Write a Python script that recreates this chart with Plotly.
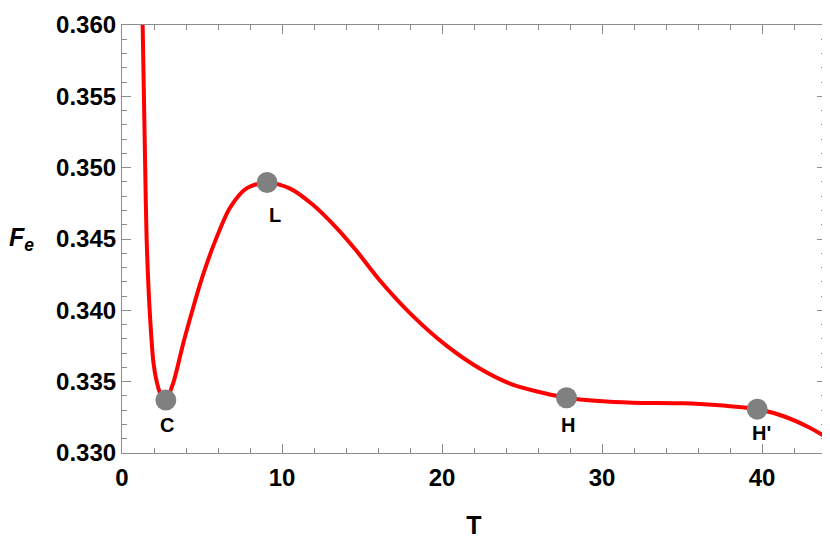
import plotly.graph_objects as go

# curve
T = [1.25, 1.29, 1.37, 1.45, 1.54, 1.73, 1.98, 2.27, 2.50, 2.74, 3.20, 3.83,
     4.45, 4.87, 5.28, 5.70, 6.74, 7.78, 9.07, 10.48, 11.93, 13.39, 14.64,
     16.09, 18.17, 20.26, 22.33, 24.41, 26.28, 27.78, 29.82, 31.90, 35.02,
     37.10, 39.70, 41.26, 42.92, 44.0]
Fe = [0.3620, 0.3600, 0.3550, 0.3500, 0.3450, 0.3400, 0.3362, 0.33456, 0.33390,
      0.33371, 0.33490, 0.33770, 0.34020, 0.34180, 0.34320, 0.34450, 0.34717,
      0.34855, 0.34896, 0.34855, 0.34740, 0.34580, 0.34419, 0.34213, 0.33961,
      0.33754, 0.33594, 0.33479, 0.33422, 0.33387, 0.33364, 0.33353, 0.33349,
      0.33337, 0.33307, 0.33261, 0.33181, 0.33112]

# marked points
pt_T = [2.74, 9.07, 27.78, 39.70]
pt_Fe = [0.33371, 0.34896, 0.33387, 0.33307]
pt_labels = ["C", "L", "H", "H'"]

x_ticks = [0, 10, 20, 30, 40]
y_ticks = [0.330, 0.335, 0.340, 0.345, 0.350, 0.355, 0.360]

FONT = "Liberation Sans, Arial, sans-serif"
GRAY = "#8c8c8c"

fig = go.Figure()
fig.add_trace(go.Scatter(x=T, y=Fe, mode="lines",
                         line=dict(color="#ff0000", width=4, shape="spline", smoothing=0.8),
                         hoverinfo="skip"))
fig.add_trace(go.Scatter(x=pt_T, y=pt_Fe, mode="markers",
                         marker=dict(color="#808080", size=21)))

# label offsets (px) so the letters sit under the dots like in the original
shifts = {"C": (1, -25), "L": (8, -32), "H": (2, -27), "H'": (4, -24)}
for x, y, lab in zip(pt_T, pt_Fe, pt_labels):
    dx, dy = shifts[lab]
    fig.add_annotation(x=x, y=y, text="<b>%s</b>" % lab, showarrow=False,
                       xshift=dx, yshift=dy,
                       font=dict(family=FONT, size=20, color="black"))

axis_common = dict(showline=True, linecolor=GRAY, linewidth=1.2, mirror="ticks",
                   ticks="inside", tickcolor=GRAY, ticklen=9, tickwidth=1,
                   showgrid=False, zeroline=False, ticklabeloverflow="allow",
                   tickfont=dict(family=FONT, size=24, color="black", weight="bold"))

fig.update_xaxes(range=[0, 44], tickvals=x_ticks, ticklabelstandoff=3,
                 minor=dict(dtick=2, ticks="inside", ticklen=5, tickcolor=GRAY),
                 title=dict(text="<b>T</b>", font=dict(family=FONT, size=25, color="black"),
                            standoff=26),
                 **axis_common)
fig.update_yaxes(range=[0.330, 0.360], tickvals=y_ticks, tickformat=".3f",
                 minor=dict(dtick=0.001, ticks="inside", ticklen=5, tickcolor=GRAY),
                 **axis_common)

fig.add_annotation(xref="paper", yref="paper", x=-0.163, y=0.5, xanchor="left",
                   text="<b><i>F</i><sub><i>e</i></sub></b>", showarrow=False,
                   font=dict(family=FONT, size=25, color="black"))

# page body adds 8px around the figure, so trim size and margins by that much
fig.update_layout(width=822, height=539, showlegend=False,
                  plot_bgcolor="white", paper_bgcolor="white",
                  margin=dict(l=114, r=3, t=9, b=94))

fig.write_html("out.html")
